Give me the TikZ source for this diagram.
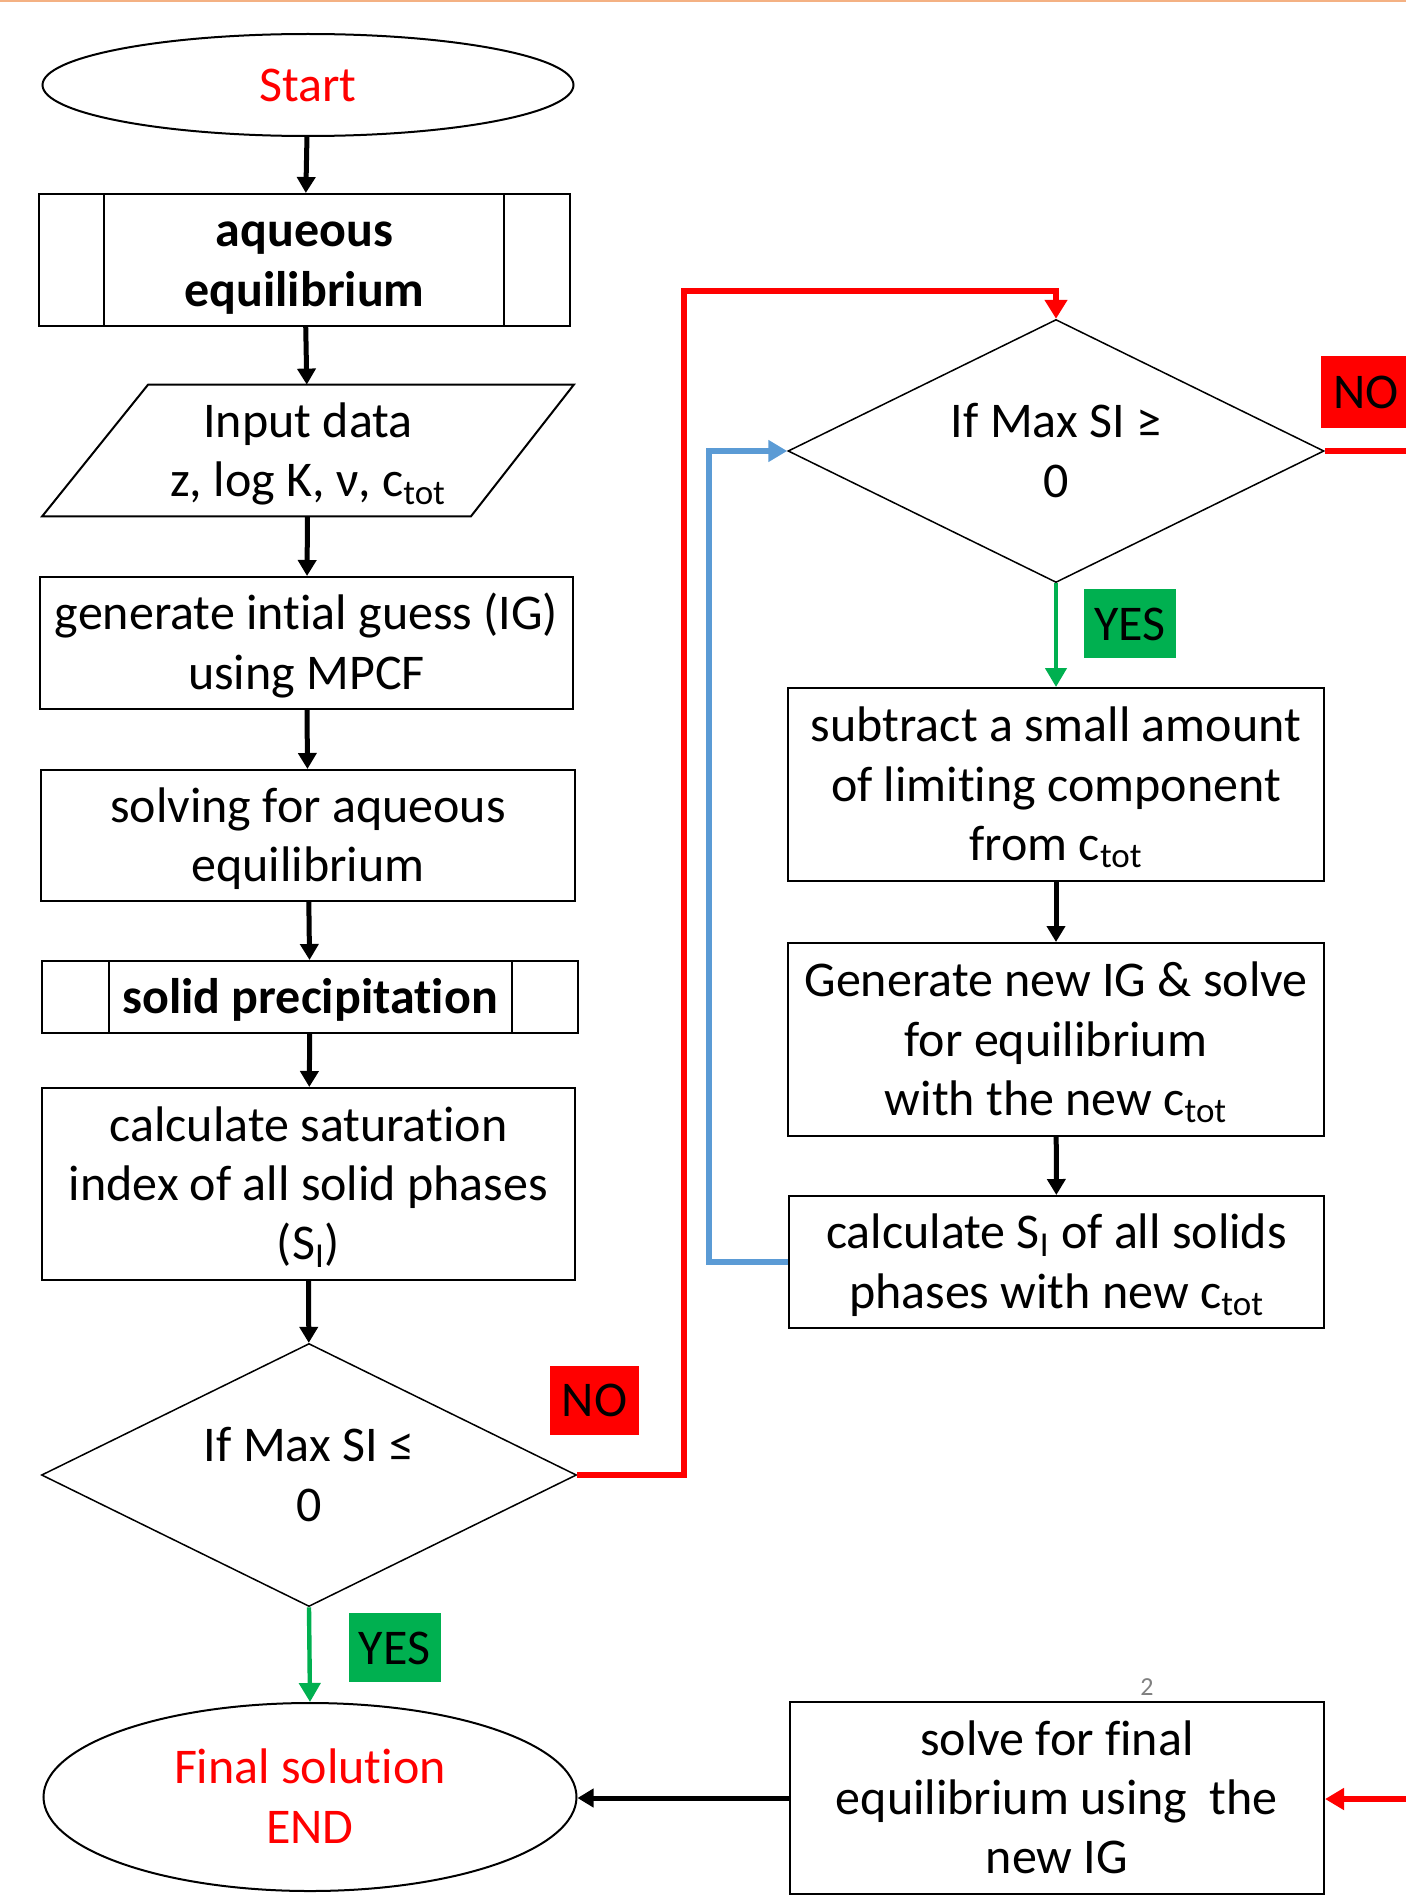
\documentclass[tikz,border=0pt]{standalone}
\usepackage{fontspec}
\setmainfont[Ligatures=NoCommon]{Carlito}
\usetikzlibrary{shapes.geometric,arrows.meta}
\definecolor{myred}{HTML}{FF0000}
\definecolor{mygreen}{HTML}{00B050}
\definecolor{myblue}{HTML}{5B9BD5}
\definecolor{myorange}{HTML}{F4B183}
\newcommand\myln[1]{\raisebox{0pt}[19pt][2.5pt]{#1}}
\begin{document}
\begin{tikzpicture}[x=0.5pt,y=-0.5pt,
  txt/.style={align=center, font=\fontsize{25}{29.6}\selectfont, inner sep=0pt},
  boldtxt/.style={font=\fontsize{25}{29.6}\selectfont\bfseries},
  box/.style={txt, draw=black, line width=1pt, rectangle, minimum width=#1},
  box/.default=266.5pt,
  oval/.style={txt, draw=black, line width=1pt, ellipse},
  decision/.style={txt, draw=black, line width=0.75pt, diamond, aspect=2, minimum width=268pt, minimum height=131.5pt},
  tag/.style={txt, minimum width=46pt, minimum height=34.5pt},
  karrow/.style={line width=2.5pt, -{Triangle[length=8pt,width=9pt]}},
  carrow/.style={line width=2.6pt, -{Triangle[length=9.5pt,width=10.5pt]}},
]
\useasboundingbox (0,0) rectangle (1406,1900);
\draw[myorange, line width=1.5pt] (0,1) -- (1406,1);

% left column
\node[oval, minimum width=265.5pt, minimum height=51pt, text=myred] (start) at (308,85) {\myln{Start}};
\node[box=265.5pt, minimum height=66pt, boldtxt] (aq) at (304.5,260) {\myln{aqueous}\\\myln{equilibrium}};
\draw[line width=1pt] ([xshift=33pt]aq.north west) -- ([xshift=33pt]aq.south west);
\draw[line width=1pt] ([xshift=-33.5pt]aq.north east) -- ([xshift=-33.5pt]aq.south east);
\node[txt, rectangle, minimum width=265.5pt, minimum height=65.5pt] (input) at (308,450.5) {\myln{Input data}\\\myln{z, log K, ν, c\textsubscript{tot}}};
\draw[line width=1pt] ([xshift=53pt]input.north west) -- (input.north east) -- ([xshift=-51.5pt]input.south east) -- (input.south west) -- cycle;
\node[box, minimum height=66pt] (gen) at (306.5,643) {\myln{generate intial guess (IG)}\\\myln{using MPCF}};
\node[box=267pt, minimum height=65.5pt] (solve) at (308,835.5) {\myln{solving for aqueous}\\\myln{equilibrium}};
\node[box=268pt, minimum height=36pt, boldtxt] (solid) at (310,997) {\myln{solid precipitation}};
\draw[line width=1pt] ([xshift=34pt]solid.north west) -- ([xshift=34pt]solid.south west);
\draw[line width=1pt] ([xshift=-33.5pt]solid.north east) -- ([xshift=-33.5pt]solid.south east);
\node[box, minimum height=96pt] (calc) at (308.5,1184) {\myln{calculate saturation}\\\myln{index of all solid phases}\\\myln{(S\textsubscript{I})}};
\node[decision, minimum width=267.5pt] (d1) at (309,1475) {\myln{If Max SI ≤}\\\myln{0}};
\node[oval, minimum width=266.5pt, minimum height=94pt, text=myred] (final) at (310,1797) {\myln{Final solution}\\\myln{END}};

% right column
\node[decision] (d2) at (1056,451) {\myln{If Max SI ≥}\\\myln{0}};
\node[box=268pt, minimum height=96.5pt] (sub) at (1056,784.5) {\myln{subtract a small amount}\\\myln{of limiting component}\\\myln{from c\textsubscript{tot}}};
\node[box=268pt, minimum height=96.5pt] (gen2) at (1056,1039.5) {\myln{Generate new IG \& solve}\\\myln{for equilibrium}\\\myln{with the new c\textsubscript{tot}}};
\node[box=267.5pt, minimum height=66pt] (calcsi) at (1056.5,1262) {\myln{calculate S\textsubscript{I} of all solids}\\\myln{phases with new c\textsubscript{tot}}};
\node[box=267pt, minimum height=96pt] (solvefinal) at (1057,1798) {\myln{solve for final}\\\myln{equilibrium using\ \ the}\\\myln{new IG}};
\node[font=\fontsize{13}{15}\selectfont, text=gray, inner sep=0pt] (pg) at (1147,1687) {2};

% tags
\node[tag, fill=mygreen] (yes1) at (394.5,1647.5) {\myln{YES}};
\node[tag, fill=myred, minimum width=44.5pt] (no1) at (594.5,1400) {\myln{NO}};
\node[tag, fill=mygreen] (yes2) at (1130,623.5) {\myln{YES}};
\node[tag, fill=myred, minimum width=45pt, minimum height=36pt] (no2) at (1366,392) {\myln{NO}};

% black arrows
\draw[karrow] (start) -- (aq);
\draw[karrow] (aq) -- (input);
\draw[karrow] (input) -- (gen);
\draw[karrow] (gen) -- (solve);
\draw[karrow] (solve) -- (solid);
\draw[karrow] (solid) -- (calc);
\draw[karrow] (calc) -- (d1);
\draw[karrow] (sub) -- (gen2);
\draw[karrow] (gen2) -- (calcsi);
\draw[karrow] (solvefinal.west) -- (final.east |- solvefinal.west);

% green arrows
\draw[carrow, mygreen, line width=2.2pt] (d1.south) -- (final.north);
\draw[carrow, mygreen, line width=2.2pt] (d2.south) -- (sub.north);

% red / blue connectors
\coordinate (r1) at (684,1475);
\coordinate (r2) at (684,291);
\coordinate (r3) at (1056,291);
\draw[carrow, myred, -{Triangle[length=9.5pt,width=11pt]}] (d1.east) -- (r1) -- (r2) -- (r3) -- (d2.north);
\coordinate (b1) at (709,1262);
\coordinate (b2) at (709,451);
\draw[carrow, myblue] (calcsi.west) -- (b1) -- (b2) -- (d2.west);
\coordinate (e1) at (1420,451);
\draw[myred, line width=2.6pt] (d2.east) -- (e1);
\coordinate (e2) at (1420,1799);
\draw[carrow, myred] (e2) -- (solvefinal.east |- e2);
\end{tikzpicture}
\end{document}
